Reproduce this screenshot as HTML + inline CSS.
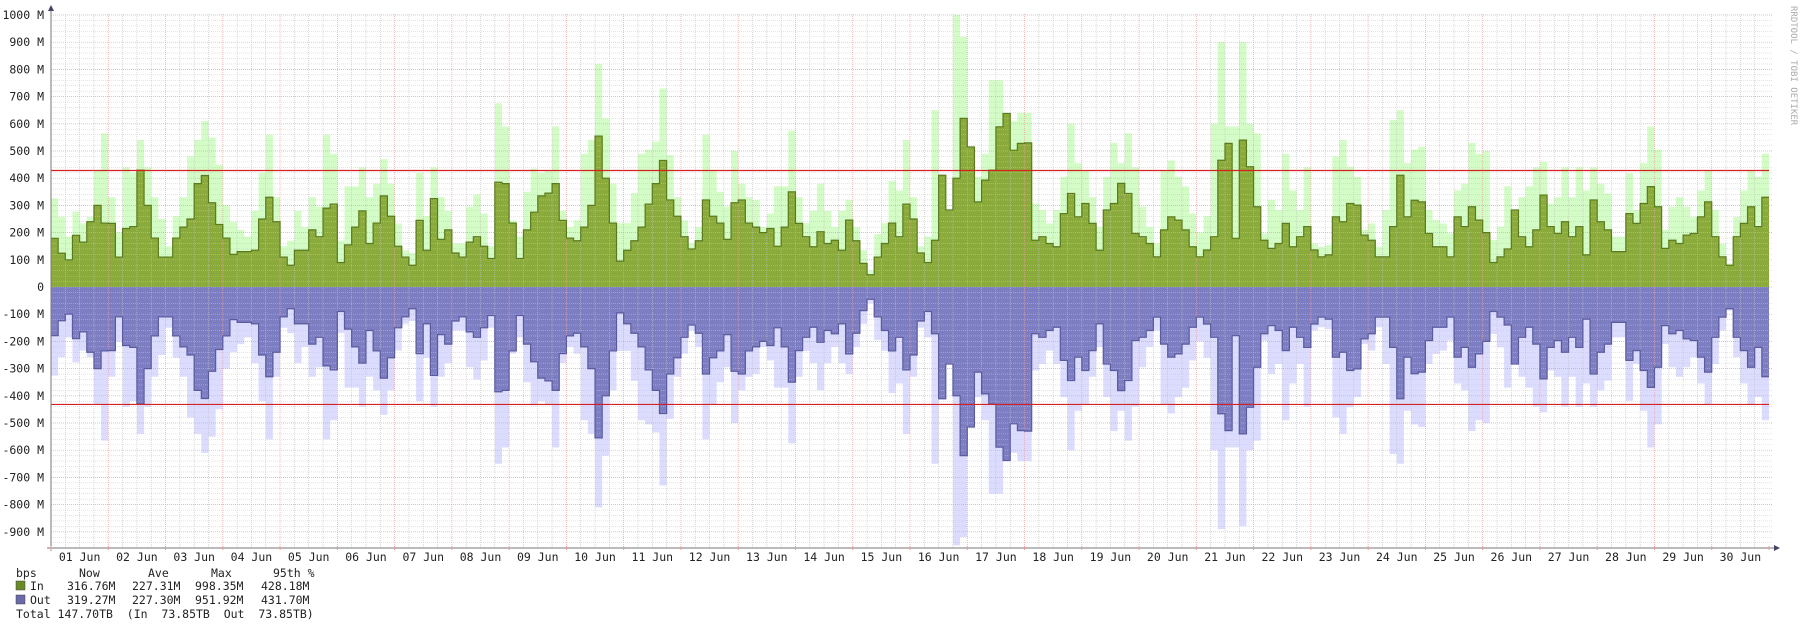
<!DOCTYPE html>
<html><head><meta charset="utf-8"><style>
html,body{margin:0;padding:0;background:#fff;}
svg{display:block;font-family:"DejaVu Sans Mono","Liberation Mono",monospace;}
</style></head><body>
<svg id="chart" width="1800" height="628" viewBox="0 0 1800 628" xmlns="http://www.w3.org/2000/svg">
<g id="fills"></g>
<g id="grid"></g>
<g id="lines"></g>
<g id="axes"></g>
<text x="1791" y="6" transform="rotate(90 1791 6)" font-size="9" fill="#aaa">RRDTOOL / TOBI OETIKER</text>
<g font-size="11.5" fill="#222">
<text x="16" y="577">bps</text><text x="79" y="577">Now</text><text x="148" y="577">Ave</text><text x="211" y="577">Max</text><text x="273" y="577">95th %</text>
<rect x="16" y="581" width="9" height="9" fill="#6a8a26" stroke="#444" stroke-width="0.5"/>
<text x="30" y="590">In</text><text x="67" y="590">316.76M</text><text x="132" y="590">227.31M</text><text x="195" y="590">998.35M</text><text x="261" y="590">428.18M</text>
<rect x="16" y="595" width="9" height="9" fill="#6a6aaa" stroke="#444" stroke-width="0.5"/>
<text x="30" y="604">Out</text><text x="67" y="604">319.27M</text><text x="132" y="604">227.30M</text><text x="195" y="604">951.92M</text><text x="261" y="604">431.70M</text>
<text x="16" y="618" xml:space="preserve">Total 147.70TB  (In  73.85TB  Out  73.85TB)</text>
</g>
</svg>
<script>
const days = ["01 Jun","02 Jun","03 Jun","04 Jun","05 Jun","06 Jun","07 Jun","08 Jun","09 Jun","10 Jun","11 Jun","12 Jun","13 Jun","14 Jun","15 Jun","16 Jun","17 Jun","18 Jun","19 Jun","20 Jun","21 Jun","22 Jun","23 Jun","24 Jun","25 Jun","26 Jun","27 Jun","28 Jun","29 Jun","30 Jun"];
const yTicks = [1000,900,800,700,600,500,400,300,200,100,0,-100,-200,-300,-400,-500,-600,-700,-800,-900];
const inAvg = [179,124,100,190,165,240,300,235, 234,110,215,222,430,300,180,110, 110,180,220,250,380,410,310,230, 180,120,130,130,135,250,330,240, 110,80,135,135,210,185,290,305,
90,155,220,280,160,235,335,260, 150,110,80,245,135,325,175,210, 125,110,165,185,150,105,385,380, 235,105,210,275,335,345,380,245, 180,170,220,300,555,400,235,95,
135,170,220,305,380,465,320,260, 185,140,170,320,260,235,175,310, 320,235,220,200,215,150,220,350, 234,185,148,203,160,172,135,246, 170,87,45,110,160,235,185,305,
250,125,90,172,411,283,400,620, 515,313,393,430,589,638,503,528, 530,172,185,160,148,270,344,258, 307,234,135,283,307,381,344,197, 185,160,111,210,258,246,210,148,
111,136,185,466,528,179,540,442, 295,172,142,160,234,148,185,222, 136,111,118,258,240,307,301,191, 172,111,111,222,411,258,319,313, 197,148,148,111,258,222,295,246,
200,90,111,140,283,185,148,210, 338,222,197,240,185,222,118,320, 240,210,130,130,270,234,307,369, 295,142,172,160,191,197,258,313, 185,111,80,185,234,295,222,330];
const inMax = [326,258,185,277,234,258,430,565, 330,200,440,420,540,440,330,250, 150,260,330,480,540,610,550,450, 300,240,210,185,280,420,560,330, 150,170,280,220,330,295,560,490,
170,370,370,440,330,380,470,380, 234,135,125,420,260,440,330,280, 160,160,295,340,270,150,675,590, 245,185,350,435,420,430,590,280, 220,245,490,540,820,620,380,235,
235,345,490,505,535,730,485,330, 245,160,220,560,430,350,295,500, 380,330,320,220,270,370,370,575, 330,235,280,380,280,220,280,320, 220,135,60,195,235,390,355,540,
330,150,185,650,405,240,1000,920, 490,405,490,760,760,600,610,640, 640,307,283,234,283,405,600,455, 430,330,220,405,530,455,565,440, 295,220,160,430,465,405,370,270,
200,260,600,900,590,590,900,600, 565,197,320,283,490,355,283,440, 160,148,155,480,540,442,405,210, 234,148,283,614,650,455,505,515, 283,246,234,197,355,380,530,490,
500,173,222,370,283,330,370,440, 460,307,330,440,330,440,355,440, 380,344,185,185,418,283,455,590, 505,210,295,330,295,258,355,430, 283,160,87,258,355,430,405,490];
const outAvg = [179,124,100,190,165,240,300,235, 234,110,215,222,430,300,180,110, 110,180,220,250,380,410,310,230, 180,120,130,130,135,250,330,240, 110,80,135,135,210,185,290,305,
90,155,220,280,160,235,335,260, 150,110,80,245,135,325,175,210, 125,110,165,185,150,105,385,380, 235,105,210,275,335,345,380,245, 180,170,220,300,555,400,235,95,
135,170,220,305,380,465,320,260, 185,140,170,320,260,235,175,310, 320,235,220,200,215,150,220,350, 234,185,148,203,160,172,135,246, 170,87,45,110,160,235,185,305,
250,125,90,172,411,283,400,620, 515,313,393,430,589,638,503,528, 530,172,185,160,148,270,344,258, 307,234,135,283,307,381,344,197, 185,160,111,210,258,246,210,148,
111,136,185,466,528,179,540,442, 295,172,142,160,234,148,185,222, 136,111,118,258,240,307,301,191, 172,111,111,222,411,258,319,313, 197,148,148,111,258,222,295,246,
200,90,111,140,283,185,148,210, 338,222,197,240,185,222,118,320, 240,210,130,130,270,234,307,369, 295,142,172,160,191,197,258,313, 185,111,80,185,234,295,222,330];
const outMax = [326,258,185,277,234,258,430,565, 330,200,440,420,540,440,330,250, 150,260,330,480,540,610,550,450, 300,240,210,185,280,420,560,330, 150,170,280,220,330,295,560,490,
170,370,370,440,330,380,470,380, 234,135,125,420,260,440,330,280, 160,160,295,340,270,150,650,590, 245,185,350,435,420,430,590,280, 220,245,490,540,810,620,380,235,
235,345,490,505,535,730,485,330, 245,160,220,560,430,350,295,500, 380,330,320,220,270,370,370,575, 330,235,280,380,280,220,280,320, 220,135,60,195,235,390,355,540,
330,150,185,650,405,240,950,920, 490,405,490,760,760,600,610,640, 640,307,283,234,283,405,600,455, 430,330,220,405,530,455,565,440, 295,220,160,430,465,405,370,270,
200,260,600,890,590,590,880,600, 565,197,320,283,490,355,283,440, 160,148,155,480,540,442,405,210, 234,148,283,614,650,455,505,515, 283,246,234,197,355,380,530,490,
500,173,222,370,283,330,370,440, 460,307,330,440,330,440,355,440, 380,344,185,185,418,283,455,590, 505,210,295,330,295,258,355,430, 283,160,87,258,355,430,405,490];
const p95In = 428.18;
const p95Out = 431.70;

const NS="http://www.w3.org/2000/svg";
const X0=51, X1=1769, GX1=1772, Y0=287, PXM=0.272, YTOP=14, YBOT=548;
const nDays = days.length;
function xDay(d){ return X0 + d*(X1-X0)/nDays; }
function y(v){ return Y0 - v*PXM; }
function mk(tag, attrs, parent){ const e=document.createElementNS(NS,tag); for(const k in attrs) e.setAttribute(k,attrs[k]); parent.appendChild(e); return e; }
function stepPts(arr, sign){
  const n=arr.length, dx=(X1-X0)/n; let pts=[];
  for(let i=0;i<n;i++){ const v=sign*arr[i]; pts.push((X0+i*dx).toFixed(2)+","+y(v).toFixed(2)); pts.push((X0+(i+1)*dx).toFixed(2)+","+y(v).toFixed(2)); }
  return pts;
}
const fills=document.getElementById('fills'), grid=document.getElementById('grid'), lines=document.getElementById('lines'), axes=document.getElementById('axes');
function area(arr, sign, color, name){
  const pts=stepPts(arr,sign);
  const p=mk('polygon',{points:X0+","+Y0+" "+pts.join(" ")+" "+X1+","+Y0, fill:color},fills);
  
  
}
area(inMax,1,'#d4fcc6','in-max-area');
area(outMax,-1,'#dcdcfe','out-max-area');
area(inAvg,1,'#8aab3c','in-avg-area');
area(outAvg,-1,'#7d7dc2','out-avg-area');
// grid
for(let v=-960; v<=1000; v+=20){
  if(v%100===0) continue;
  const l=mk('line',{x1:X0,x2:GX1,y1:y(v),y2:y(v),stroke:'#c8c8c8','stroke-width':0.6,'stroke-dasharray':'1,1','stroke-opacity':0.8},grid);
   
}
for(let h=0; h<=nDays*4; h++){
  const x=xDay(h/4); if(h%4===0) continue;
  const l=mk('line',{x1:x,x2:x,y1:YTOP,y2:YBOT,stroke:'#c0c0c0','stroke-width':0.6,'stroke-dasharray':'1,1'},grid);
   
}
yTicks.forEach(v=>{
  const l=mk('line',{x1:X0,x2:GX1,y1:y(v),y2:y(v),stroke:'#f29c9c','stroke-width':0.7,'stroke-dasharray':'1,1'},grid);
   
  const t=mk('text',{x:44,y:y(v)+4,'text-anchor':'end','font-size':11.5,fill:'#222'},axes);
  t.textContent = v===0 ? "0" : v+" M";
   
});
for(let d=1; d<nDays; d++){
  const x=xDay(d);
  const l=mk('line',{x1:x,x2:x,y1:YTOP,y2:YBOT,stroke:'#f29c9c','stroke-width':0.7,'stroke-dasharray':'1,1'},grid);
   
}
days.forEach((d,i)=>{
  const t=mk('text',{x:xDay(i+0.5),y:561,'text-anchor':'middle','font-size':11.5,fill:'#222'},axes);
  t.textContent=d;
   
});
// avg outlines
function outline(arr, sign, color, name){
  const p=mk('polyline',{points:stepPts(arr,sign).join(" "),fill:'none',stroke:color,'stroke-width':1.2},lines);
   
}
outline(inAvg,1,'#5b7a1f','in-avg-line');
outline(outAvg,-1,'#5a5a9c','out-avg-line');
// 95th lines
let r1=mk('line',{x1:X0,x2:X1,y1:y(p95In),y2:y(p95In),stroke:'#d42020','stroke-width':1.2},lines);
 
let r2=mk('line',{x1:X0,x2:X1,y1:y(-p95Out),y2:y(-p95Out),stroke:'#d42020','stroke-width':1.2},lines);
 
// axes
let ya=mk('line',{x1:X0,x2:X0,y1:9,y2:YBOT+3,stroke:'#777','stroke-width':1},axes);
 
let yar=mk('polygon',{points:(X0-3)+",11 "+(X0+3)+",11 "+X0+",5",fill:'#446'},axes);
 
let xa=mk('line',{x1:X0-4,x2:1775,y1:YBOT,y2:YBOT,stroke:'#777','stroke-width':1},axes);
 
let xar=mk('polygon',{points:"1774,"+(YBOT-3)+" 1774,"+(YBOT+3)+" 1780,"+YBOT,fill:'#446'},axes);
 
for(let d=0; d<=nDays; d++){
  const x=xDay(d);
  const tk=mk('line',{x1:x,x2:x,y1:YBOT-2,y2:YBOT+2,stroke:'#e99','stroke-width':1},axes);
   
}
</script>
</body></html>
